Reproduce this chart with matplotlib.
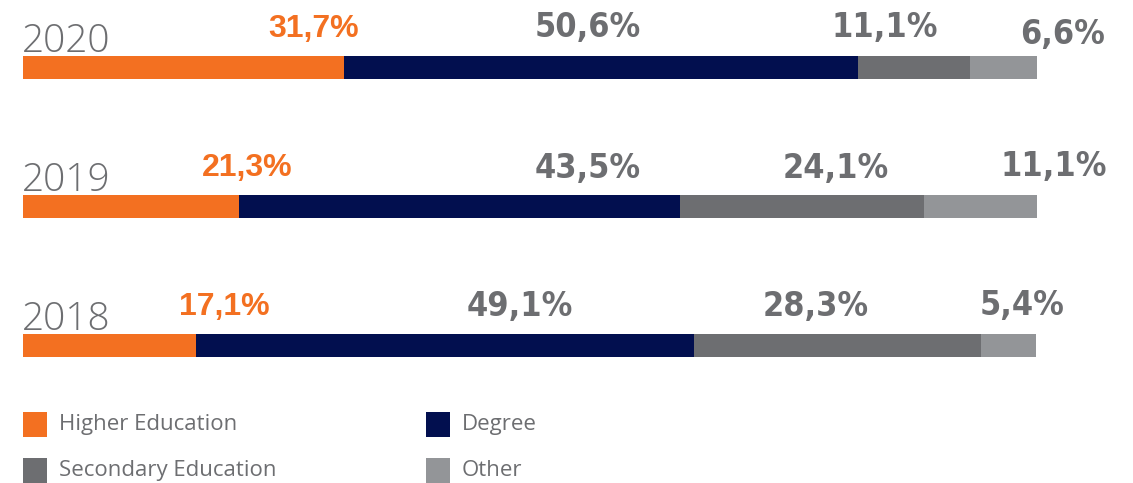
import matplotlib
matplotlib.use("Agg")
import matplotlib.pyplot as plt
from matplotlib.patches import Rectangle

years = ["2018", "2019", "2020"]
categories = ["Higher Education", "Degree", "Secondary Education", "Other"]
higher = [17.1, 21.3, 31.7]
degree = [49.1, 43.5, 50.6]
secondary = [28.3, 24.1, 11.1]
other = [5.4, 11.1, 6.6]
series = [higher, degree, secondary, other]

colors = ["#F37021", "#020F4F", "#6D6E71", "#939598"]
text_gray = "#6D6E71"

# label centre x positions (percent units) and vertical offsets (points)
label_x = [
    [19.9, 49.0, 78.2, 98.5],
    [22.1, 55.7, 80.2, 101.7],
    [28.7, 55.7, 85.0, 102.5],
]
label_dy = [
    [14, 13, 13, 14],
    [14, 12, 12, 14],
    [14, 14, 14, 9],
]

W, H = 1133, 483
fig = plt.figure(figsize=(W / 100, H / 100), dpi=100)
ax = fig.add_axes([23 / W, 0, 1014 / W, 1])
ax.set_xlim(0, 100)
ax.set_ylim(-(H - 345.5) / 139, 2 + 67.5 / 139)
ax.axis("off")

bar_h = 23 / 139
ypos = list(range(len(years)))
left = [0.0] * len(years)
for vals, col in zip(series, colors):
    ax.barh(ypos, vals, left=left, height=bar_h, color=col, linewidth=0)
    left = [l + v for l, v in zip(left, vals)]

for i, y in enumerate(ypos):
    ax.annotate(years[i], xy=(0, y + bar_h / 2), xytext=(-1, 3), textcoords="offset points",
                ha="left", va="baseline", fontsize=28, color=text_gray,
                family="Open Sans", fontweight="light", annotation_clip=False)
    for j, vals in enumerate(series):
        txt = f"{vals[i]:.1f}%".replace(".", ",")
        if j == 0:
            kw = dict(color=colors[0], family="Liberation Sans", fontweight="bold", fontsize=23)
        else:
            kw = dict(color=text_gray, family="DejaVu Sans", fontstretch="condensed",
                      fontweight="bold", fontsize=24.5)
        ax.annotate(txt, xy=(label_x[i][j], y + bar_h / 2), xytext=(0, label_dy[i][j]),
                    textcoords="offset points", ha="center", va="baseline",
                    annotation_clip=False, **kw)

# legend
leg_pos = [(23, 412), (426, 412), (23, 458), (426, 458)]
for (px, py), cat, col in zip(leg_pos, categories, colors):
    fig.patches.append(Rectangle((px / W, 1 - (py + 25) / H), 24 / W, 25 / H,
                                 transform=fig.transFigure, color=col, linewidth=0))
    fig.text((px + 36) / W, 1 - (py + 12.5) / H, cat, ha="left", va="center",
             fontsize=16, color=text_gray, family="Open Sans", fontweight="normal")

fig.savefig("out.png", dpi=100)
